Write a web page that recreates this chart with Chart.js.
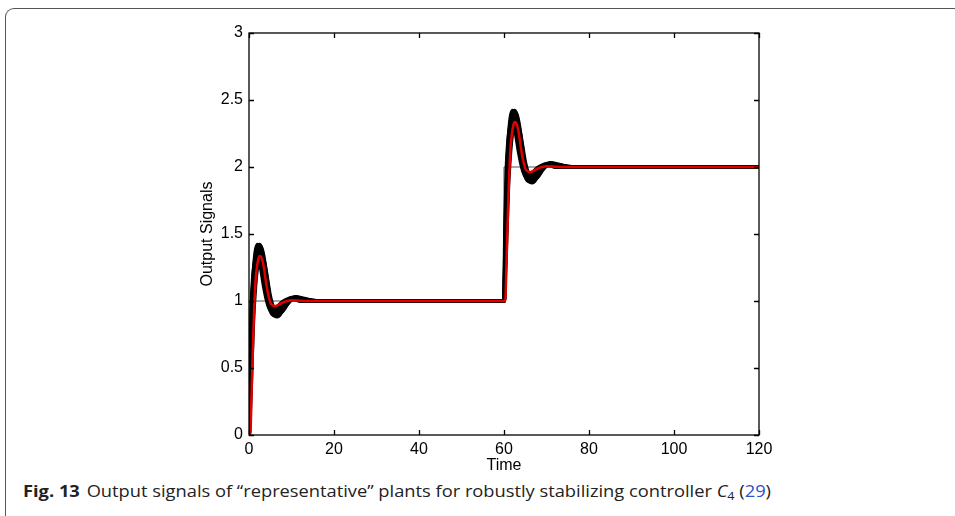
<!DOCTYPE html>
<html>
<head>
<meta charset="utf-8">
<title>Output signals</title>
<script src="https://cdn.jsdelivr.net/npm/chart.js@4.4.1/dist/chart.umd.min.js"></script>
<style>
    html, body {
        margin: 0;
        padding: 0;
        background: #fff;
        overflow: hidden;
    }
    #page {
        position: relative;
        width: 955px;
        height: 516px;
    }
    #frame {
        position: absolute;
        left: 5px;
        top: 8px;
        right: -20px;
        bottom: -20px;
        border-top: 1.5px solid #555;
        border-left: 1.5px solid #555;
        border-top-left-radius: 9px;
    }
    #chart {
        position: absolute;
        left: 0;
        top: 0;
    }
    #caption {
        position: absolute;
        left: 23px;
        top: 481px;
        font-family: 'Open Sans', sans-serif;
        font-size: 16px;
        line-height: 20px;
        color: #222;
        white-space: nowrap;
        transform-origin: 0 0;
    }
    #caption b {
        font-weight: 700;
        margin-right: 6px;
    }
    #caption sub {
        font-size: 11px;
        vertical-align: -3px;
        line-height: 0;
    }
    #caption .ref {
        color: #2b50c8;
    }
</style>
</head>
<body>
<div id="page">
    <div id="frame"></div>
    <canvas id="chart" width="955" height="480"></canvas>
    <div id="caption"><b>Fig. 13</b>Output signals of “representative” plants for robustly stabilizing controller <i>C</i><sub>4</sub> (<span class="ref">29</span>)</div>
</div>
<script>
'use strict';

// Simulation time (s): first step at t = 0, second step at t = 60
const times = [
    0, 0.3, 0.6, 1, 1.5, 2, 2.5, 3, 3.5, 4, 4.5, 5, 5.5, 6, 6.5, 7,
    8, 9, 10, 11, 12, 14, 16, 20,
    60, 60.3, 60.6, 61, 61.5, 62, 62.5, 63, 63.5, 64, 64.5, 65, 65.5, 66, 66.5, 67,
    68, 69, 70, 71, 72, 74, 76, 80,
    120,
];

// Reference signal (steps 0 -> 1 -> 2)
const refTimes = [0, 0, 60, 60, 120];
const refValues = [0, 1, 1, 2, 2];

// Outputs of the plant family (black band)
const plantA = [
    0, 0.35, 0.72, 1.08, 1.32, 1.41, 1.42, 1.37, 1.27, 1.15, 1.04, 0.96, 0.91, 0.89, 0.885, 0.89,
    0.94, 0.99, 1.02, 1.03, 1.02, 1.0, 1.0, 1.0,
    1, 1.35, 1.72, 2.08, 2.32, 2.41, 2.42, 2.37, 2.27, 2.15, 2.04, 1.96, 1.91, 1.89, 1.885, 1.89,
    1.94, 1.99, 2.02, 2.03, 2.02, 2.0, 2.0, 2.0,
    2.0,
];
const plantB = [
    0, 0.45, 0.85, 1.16, 1.36, 1.42, 1.39, 1.31, 1.19, 1.07, 0.98, 0.93, 0.9, 0.895, 0.905, 0.925,
    0.97, 1.01, 1.025, 1.02, 1.01, 1.0, 1.0, 1.0,
    1, 1.45, 1.85, 2.16, 2.36, 2.42, 2.39, 2.31, 2.19, 2.07, 1.98, 1.93, 1.9, 1.895, 1.905, 1.925,
    1.97, 2.01, 2.025, 2.02, 2.01, 2.0, 2.0, 2.0,
    2.0,
];
const plantC = [
    0, 0.22, 0.5, 0.86, 1.12, 1.27, 1.34, 1.35, 1.3, 1.22, 1.12, 1.03, 0.97, 0.93, 0.91, 0.905,
    0.93, 0.975, 1.01, 1.025, 1.02, 1.005, 1.0, 1.0,
    1, 1.22, 1.5, 1.86, 2.12, 2.27, 2.34, 2.35, 2.3, 2.22, 2.12, 2.03, 1.97, 1.93, 1.91, 1.905,
    1.93, 1.975, 2.01, 2.025, 2.02, 2.005, 2.0, 2.0,
    2.0,
];
const plantD = [
    0, 0.6, 0.98, 1.2, 1.32, 1.35, 1.3, 1.21, 1.11, 1.03, 0.97, 0.935, 0.925, 0.93, 0.945, 0.965,
    0.995, 1.012, 1.015, 1.01, 1.0, 1.0, 1.0, 1.0,
    1, 1.6, 1.98, 2.2, 2.32, 2.35, 2.3, 2.21, 2.11, 2.03, 1.97, 1.935, 1.925, 1.93, 1.945, 1.965,
    1.995, 2.012, 2.015, 2.01, 2.0, 2.0, 2.0, 2.0,
    2.0,
];
const plantE = [
    0, 0.3, 0.62, 0.98, 1.24, 1.37, 1.41, 1.39, 1.32, 1.21, 1.1, 1.0, 0.94, 0.9, 0.89, 0.895,
    0.93, 0.98, 1.015, 1.03, 1.025, 1.01, 1.0, 1.0,
    1, 1.3, 1.62, 1.98, 2.24, 2.37, 2.41, 2.39, 2.32, 2.21, 2.1, 2.0, 1.94, 1.9, 1.89, 1.895,
    1.93, 1.98, 2.015, 2.03, 2.025, 2.01, 2.0, 2.0,
    2.0,
];

// Nominal plant output (red)
const nominal = [
    0, 0, 0.3, 0.74, 1.13, 1.28, 1.335, 1.32, 1.25, 1.14, 1.05, 0.99, 0.97, 0.963, 0.965, 0.972,
    0.99, 1.0, 1.005, 1.004, 1.002, 1.0, 1.0, 1.0,
    1, 1, 1.3, 1.74, 2.13, 2.28, 2.335, 2.32, 2.25, 2.14, 2.05, 1.99, 1.97, 1.963, 1.965, 1.972,
    1.99, 2.0, 2.005, 2.004, 2.002, 2.0, 2.0, 2.0,
    2.0,
];

const xTicks = [0, 20, 40, 60, 80, 100, 120];
const yTicks = [0, 0.5, 1, 1.5, 2, 2.5, 3];

const FONT = '\'Liberation Sans\', Arial, sans-serif';

function points(xs, ys) {
    return xs.map((x, i) => ({x: x, y: ys[i]}));
}

function plantSet(values) {
    return {
        data: points(times, values),
        borderColor: '#000',
        borderWidth: 4,
        cubicInterpolationMode: 'monotone',
    };
}

// Box round the plot with inward ticks, drawn like a MATLAB axes
const pluginAxesBox = {
    id: 'axesBox',
    afterDatasetsDraw: function(chart) {
        const {ctx, chartArea: area, scales} = chart;
        const len = 5;
        ctx.save();
        ctx.strokeStyle = '#000';
        ctx.lineWidth = 1.3;
        ctx.beginPath();
        for (const v of xTicks) {
            const x = Math.round(scales.x.getPixelForValue(v)) + 0.5;
            ctx.moveTo(x, area.bottom);
            ctx.lineTo(x, area.bottom - len);
            ctx.moveTo(x, area.top);
            ctx.lineTo(x, area.top + len);
        }
        for (const v of yTicks) {
            const y = Math.round(scales.y.getPixelForValue(v)) + 0.5;
            ctx.moveTo(area.left, y);
            ctx.lineTo(area.left + len, y);
            ctx.moveTo(area.right, y);
            ctx.lineTo(area.right - len, y);
        }
        ctx.stroke();
        ctx.strokeRect(area.left, area.top, area.right - area.left,
            area.bottom - area.top);
        ctx.restore();
    },
};

new Chart(document.getElementById('chart'), {
    type: 'line',
    data: {
        datasets: [
            {
                data: points(times, nominal),
                borderColor: '#e00000',
                borderWidth: 2.5,
                cubicInterpolationMode: 'monotone',
            },
            plantSet(plantA),
            plantSet(plantB),
            plantSet(plantC),
            plantSet(plantD),
            plantSet(plantE),
            {
                data: points(refTimes, refValues),
                borderColor: '#555',
                borderWidth: 1,
                tension: 0,
            },
        ],
    },
    options: {
        responsive: false,
        animation: false,
        devicePixelRatio: 1,
        layout: {
            padding: {left: 180, right: 196, top: 33, bottom: 0},
        },
        elements: {
            point: {radius: 0},
        },
        plugins: {
            legend: {display: false},
            tooltip: {enabled: false},
        },
        scales: {
            x: {
                type: 'linear',
                min: 0,
                max: 120,
                afterFit: function(scale) {
                    scale.height = 45;
                },
                afterBuildTicks: function(scale) {
                    scale.ticks = xTicks.map((v) => ({value: v}));
                },
                grid: {display: false, drawTicks: false},
                border: {display: false},
                ticks: {
                    color: '#000',
                    padding: 5,
                    maxRotation: 0,
                    font: {family: FONT, size: 16},
                    callback: (v) => String(v),
                },
                title: {
                    display: true,
                    text: 'Time',
                    color: '#000',
                    font: {family: FONT, size: 16},
                    padding: {top: 0, bottom: 4.4},
                },
            },
            y: {
                type: 'linear',
                min: 0,
                max: 3,
                afterFit: function(scale) {
                    scale.width = 69;
                },
                afterBuildTicks: function(scale) {
                    scale.ticks = yTicks.map((v) => ({value: v}));
                },
                grid: {display: false, drawTicks: false},
                border: {display: false},
                ticks: {
                    color: '#000',
                    padding: 6,
                    font: {family: FONT, size: 16},
                    callback: (v) => String(v),
                },
                title: {
                    display: true,
                    text: 'Output Signals',
                    color: '#000',
                    font: {family: FONT, size: 16},
                    padding: {top: 17.5, bottom: 0},
                },
            },
        },
    },
    plugins: [pluginAxesBox],
});

// Squeeze the caption to the figure's text width
const caption = document.getElementById('caption');
const natural = caption.getBoundingClientRect().width;
caption.style.transform = 'scaleX(' + (748 / natural) + ')';
</script>
</body>
</html>
